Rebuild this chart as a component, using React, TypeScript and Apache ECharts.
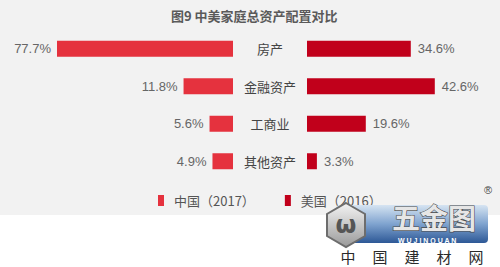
import React, { useEffect, useRef } from "react";
import * as echarts from "echarts";

const chartTitle = "图9 中美家庭总资产配置对比";
const categories = ["房产", "金融资产", "工商业", "其他资产"];
const seriesNames = ["中国（2017）", "美国（2016）"];
const chinaValues = [77.7, 11.8, 5.6, 4.9];
const usValues = [34.6, 42.6, 19.6, 3.3];
const watermarkChars = ["中", "国", "建", "材", "网"];

const CN_COLOR = "#e5323e";
const US_COLOR = "#c1001b";
const FONT = "'Noto Sans CJK SC', 'Liberation Sans', sans-serif";

export default function App() {
  const ref = useRef<HTMLDivElement>(null);

  useEffect(() => {
    if (!ref.current) return;
    const chart = echarts.init(ref.current, undefined, { renderer: "svg" });

    const labelFmt = (p: any) => p.value + "%";

    const option: any = {
      animation: false,
      backgroundColor: "#ffffff",
      title: {
        text: chartTitle,
        left: 166,
        top: 4,
        textStyle: { fontSize: 13, fontWeight: "bold", color: "#5a5a5a", fontFamily: FONT },
      },
      legend: {
        left: 153,
        top: 189,
        itemWidth: 6,
        itemHeight: 11,
        itemGap: 30,
        icon: "rect",
        data: seriesNames,
        textStyle: { fontSize: 13, color: "#555", fontFamily: FONT, padding: [0, 0, 0, 5] },
      },
      grid: [
        { left: 57, width: 176, top: 30, height: 150 },
        { left: 307, width: 180, top: 30, height: 150 },
      ],
      xAxis: [
        { type: "value", gridIndex: 0, inverse: true, min: 0, max: 42, show: false },
        { type: "value", gridIndex: 1, min: 0, max: 60, show: false },
      ],
      yAxis: [
        { type: "category", gridIndex: 0, data: categories, inverse: true, show: false },
        {
          type: "category",
          gridIndex: 1,
          data: categories,
          inverse: true,
          axisLine: { show: false },
          axisTick: { show: false },
          splitLine: { show: false },
          axisLabel: { align: "center", margin: 37, fontSize: 13, color: "#444", fontFamily: FONT },
        },
      ],
      graphic: [
        {
          type: "rect",
          z: -100,
          silent: true,
          shape: { x: 0, y: 0, width: 500, height: 215 },
          style: { fill: "#f2f2f2" },
        },
        {
          type: "rect",
          z: 100,
          silent: true,
          shape: { x: 336, y: 205, width: 152, height: 38, r: 4 },
          style: {
            fill: new echarts.graphic.LinearGradient(0, 0, 0, 1, [
              { offset: 0, color: "#d6e4f2" },
              { offset: 0.5, color: "#7fa3cf" },
              { offset: 1, color: "#2d5896" },
            ]),
          },
        },
        {
          type: "polygon",
          z: 101,
          silent: true,
          shape: {
            points: [
              [346, 203],
              [365, 214],
              [365, 236],
              [346, 247],
              [327, 236],
              [327, 214],
            ],
          },
          style: {
            fill: new echarts.graphic.LinearGradient(0, 0, 0, 1, [
              { offset: 0, color: "#f4f4f4" },
              { offset: 1, color: "#9a9a9a" },
            ]),
            stroke: "#6d6d6d",
            lineWidth: 2,
          },
        },
        {
          type: "text",
          z: 102,
          silent: true,
          style: {
            x: 346,
            y: 225,
            text: "ω",
            align: "center",
            verticalAlign: "middle",
            fontSize: 24,
            fontWeight: "bold",
            fill: "#555",
            fontFamily: "'DejaVu Sans', sans-serif",
          },
        },
        {
          type: "text",
          z: 102,
          silent: true,
          style: {
            x: 392,
            y: 203,
            text: "五金图",
            fontSize: 28,
            fontWeight: "bold",
            fill: "#e6e6e6",
            stroke: "#4a4a4a",
            lineWidth: 1.2,
            fontFamily: FONT,
          },
        },
        {
          type: "text",
          z: 103,
          silent: true,
          style: {
            x: 398,
            y: 240,
            text: "W U J I N Q U A N",
            fontSize: 7,
            fontWeight: "bold",
            fill: "#ffffff",
            verticalAlign: "middle",
            fontFamily: "'Liberation Sans', sans-serif",
          },
        },
        {
          type: "text",
          z: 103,
          silent: true,
          style: {
            x: 484,
            y: 184,
            text: "®",
            fontSize: 11,
            fill: "#444",
            fontFamily: "'Liberation Sans', sans-serif",
          },
        },
        ...watermarkChars.map((c, i) => ({
          type: "text",
          z: 103,
          silent: true,
          style: {
            x: 348 + i * 32,
            y: 256,
            text: c,
            align: "center",
            verticalAlign: "middle",
            fontSize: 15,
            fill: "#2a2a2a",
            fontFamily: FONT,
          },
        })),
      ],
      series: [
        {
          name: seriesNames[0],
          type: "bar",
          xAxisIndex: 0,
          yAxisIndex: 0,
          data: chinaValues,
          barWidth: 16,
          itemStyle: { color: CN_COLOR },
          label: {
            show: true,
            position: "left",
            distance: 6,
            formatter: labelFmt,
            fontSize: 13,
            color: "#666",
            fontFamily: "'Liberation Sans', sans-serif",
          },
        },
        {
          name: seriesNames[1],
          type: "bar",
          xAxisIndex: 1,
          yAxisIndex: 1,
          data: usValues,
          barWidth: 16,
          itemStyle: { color: US_COLOR },
          label: {
            show: true,
            position: "right",
            distance: 7,
            formatter: labelFmt,
            fontSize: 13,
            color: "#666",
            fontFamily: "'Liberation Sans', sans-serif",
          },
        },
      ],
    };

    chart.setOption(option);
    return () => chart.dispose();
  }, []);

  return (
    <div
      ref={ref}
      style={{ position: "fixed", left: 0, top: 0, width: 500, height: 267 }}
    />
  );
}
